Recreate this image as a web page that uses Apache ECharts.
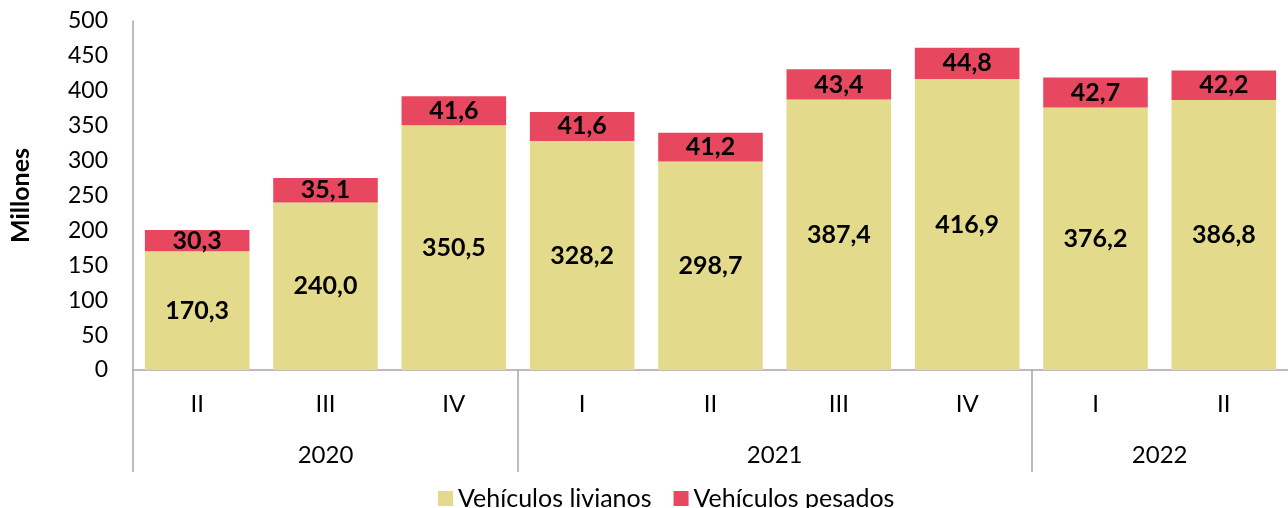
<!DOCTYPE html>
<html><head><meta charset="utf-8">
<script src="https://cdn.jsdelivr.net/npm/echarts@6/dist/echarts.min.js"></script>
<style>html,body{margin:0;padding:0;background:#fff}#c{width:1288px;height:508px}</style>
</head><body><div id="c"></div>
<script>
const quarters = ['II','III','IV','I','II','III','IV','I','II'];
const years = ['2020','2021','2022'];
const yearCenters = [1.5, 5, 8];
const yearBounds = [0, 3, 7];
const livianos = [170.3, 240.0, 350.5, 328.2, 298.7, 387.4, 416.9, 376.2, 386.8];
const pesados = [30.3, 35.1, 41.6, 41.6, 41.2, 43.4, 44.8, 42.7, 42.2];
const yTicks = [0,50,100,150,200,250,300,350,400,450,500];

const FONT = 'Lato, "Open Sans", sans-serif';
const fmt = v => v.toFixed(1).replace('.', ',');
const chart = echarts.init(document.getElementById('c'), null, {renderer:'canvas'});
chart.setOption({
  animation:false,
  textStyle:{fontFamily:FONT},
  grid:{left:132, top:21, width:1161, height:349, containLabel:false},
  legend:{
    left:433, top:481, icon:'rect', itemWidth:15, itemHeight:15, itemGap:22,
    textStyle:{fontFamily:FONT, fontSize:25, color:'#000'},
    data:['Vehículos livianos','Vehículos pesados']
  },
  xAxis:[{
    type:'category', data:quarters, position:'bottom',
    axisLine:{lineStyle:{color:'#a6a6a6', width:1.5}},
    axisTick:{show:false},
    axisLabel:{fontFamily:FONT, fontSize:24, color:'#000', margin:22}
  },{
    type:'value', min:0, max:9, position:'bottom',
    axisLine:{show:false}, splitLine:{show:false},
    axisTick:{show:true, customValues:yearBounds, length:102, lineStyle:{color:'#a6a6a6', width:1.5}},
    axisLabel:{customValues:yearCenters, fontFamily:FONT, fontSize:24, color:'#000', margin:73,
      formatter:v => { const i = yearCenters.indexOf(v); return i>=0 ? years[i] : ''; }}
  }],
  yAxis:{
    type:'value', min:0, max:500, interval:50,
    name:'Millones', nameLocation:'middle', nameGap:100, nameRotate:90,
    nameTextStyle:{fontFamily:FONT, fontSize:25, fontWeight:'bold', color:'#000'},
    axisLine:{show:true, lineStyle:{color:'#a6a6a6', width:1.5}},
    axisTick:{show:false}, splitLine:{show:false},
    axisLabel:{fontFamily:FONT, fontSize:23, color:'#000', margin:25,
      formatter:v => yTicks.includes(v) ? String(v) : ''}
  },
  series:[{
    name:'Vehículos livianos', type:'bar', stack:'t', data:livianos, xAxisIndex:0,
    barCategoryGap:'18.5%', itemStyle:{color:'#e3db8b'},
    label:{show:true, position:'inside', formatter:p=>fmt(p.value), fontFamily:FONT, fontSize:25, fontWeight:'bold', color:'#000'}
  },{
    name:'Vehículos pesados', type:'bar', stack:'t', data:pesados, xAxisIndex:0,
    barCategoryGap:'18.5%', itemStyle:{color:'#e8485f'},
    label:{show:true, position:'inside', formatter:p=>fmt(p.value), fontFamily:FONT, fontSize:25, fontWeight:'bold', color:'#000'}
  }]
});
</script></body></html>
